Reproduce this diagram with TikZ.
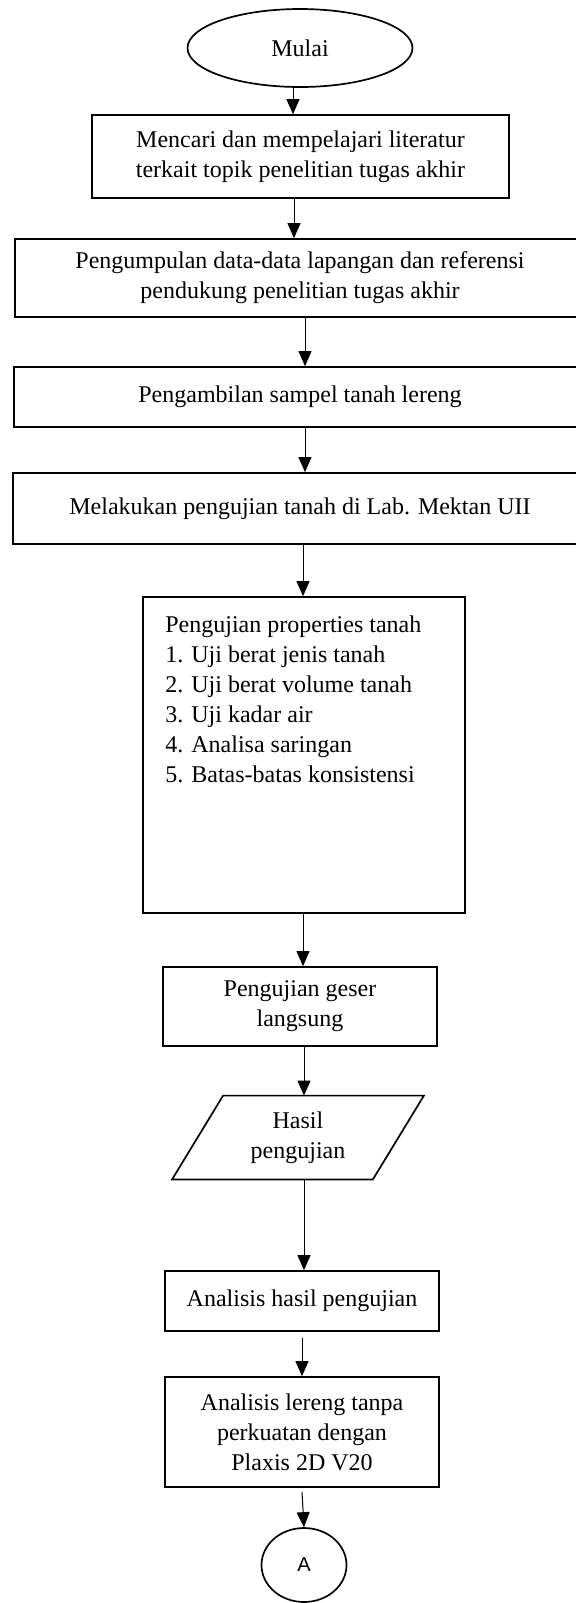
\documentclass[tikz,border=0pt]{standalone}
\usepackage{fontspec}
\setmainfont{Liberation Serif}
\newfontfamily\arialfont{Liberation Sans}
\usetikzlibrary{arrows.meta,shapes.geometric}

\begin{document}
\begin{tikzpicture}[x=0.5pt,y=-0.5pt,
	every node/.style={font=\fontsize{12}{15}\selectfont},
	procbox/.style={draw,line width=0.85pt,align=center,inner sep=0pt},
	flowarr/.style={-{Triangle[length=7.5pt,width=6.5pt]},line width=0.5pt}]
	\useasboundingbox (0,0) rectangle (576,1603);
	\node[procbox,ellipse,minimum width=112.5pt,minimum height=39pt] (mulai) at (300,48) {Mulai};
	\node[procbox,minimum width=208.5pt,minimum height=41.5pt] (literatur) at (300.5,156.5) {Mencari dan mempelajari literatur\\terkait topik penelitian tugas akhir};
	\node[procbox,minimum width=285pt,minimum height=39pt] (datalap) at (300,278) {Pengumpulan data-data lapangan dan referensi\\pendukung penelitian tugas akhir};
	\node[procbox,minimum width=286pt,minimum height=30pt] (sampel) at (300,397) {Pengambilan sampel tanah lereng};
	\node[procbox,minimum width=287pt,minimum height=35.5pt] (labuji) at (300,508.5) {Melakukan pengujian tanah di Lab. Mektan UII};
	\node[procbox,minimum width=161pt,minimum height=158pt] (properti) at (304,755) {};
	\node[anchor=north west,align=left,inner sep=0pt] (propertitxt) at (165,611) {\strut Pengujian properties tanah\\1. Uji berat jenis tanah\\2. Uji berat volume tanah\\3. Uji kadar air\\4. Analisa saringan\\5. Batas-batas konsistensi};
	\node[procbox,minimum width=137pt,minimum height=39.5pt] (geser) at (300,1006.5) {Pengujian geser\\langsung};
	\node[align=center,inner sep=0pt,minimum width=100pt,minimum height=41.5pt] (hasil) at (298,1137.5) {Hasil\\pengujian};
	\draw[line width=0.85pt] ([xshift=12.75pt]hasil.north west) -- ([xshift=12.75pt]hasil.north east) -- ([xshift=-12.75pt]hasil.south east) -- ([xshift=-12.75pt]hasil.south west) -- cycle;
	\node[procbox,minimum width=137pt,minimum height=30pt] (analisis) at (302,1301) {Analisis hasil pengujian};
	\node[procbox,minimum width=137pt,minimum height=55pt] (plaxis) at (302,1432) {Analisis lereng tanpa\\perkuatan dengan\\Plaxis 2D V20};
	\node[procbox,ellipse,minimum width=42.5pt,minimum height=37pt,font=\arialfont\fontsize{10}{12}\selectfont] (konektor) at (304,1565) {A};
	\draw[flowarr] ([xshift=-3.5pt]mulai.south) -- ([xshift=-3.5pt]mulai.south |- literatur.north);
	\draw[flowarr] ([xshift=-3.25pt]literatur.south) -- ([xshift=-3.25pt]literatur.south |- datalap.north);
	\draw[flowarr] ([xshift=2.5pt]datalap.south) -- ([xshift=2.5pt]datalap.south |- sampel.north);
	\draw[flowarr] ([xshift=2.5pt]sampel.south) -- ([xshift=2.5pt]sampel.south |- labuji.north);
	\draw[flowarr] ([xshift=1.5pt]labuji.south) -- ([xshift=1.5pt]labuji.south |- properti.north);
	\draw[flowarr] ([xshift=-0.5pt]properti.south) -- ([xshift=-0.5pt]properti.south |- geser.north);
	\draw[flowarr] ([xshift=2pt]geser.south) -- ([xshift=2pt]geser.south |- hasil.north);
	\draw[flowarr] ([xshift=3pt]hasil.south) -- ([xshift=3pt]hasil.south |- analisis.north);
	\draw[flowarr] ([yshift=-3pt]analisis.south) -- (plaxis.north);
	\draw[flowarr] ([yshift=-2pt]plaxis.south) -- (konektor.north);
\end{tikzpicture}
\end{document}
